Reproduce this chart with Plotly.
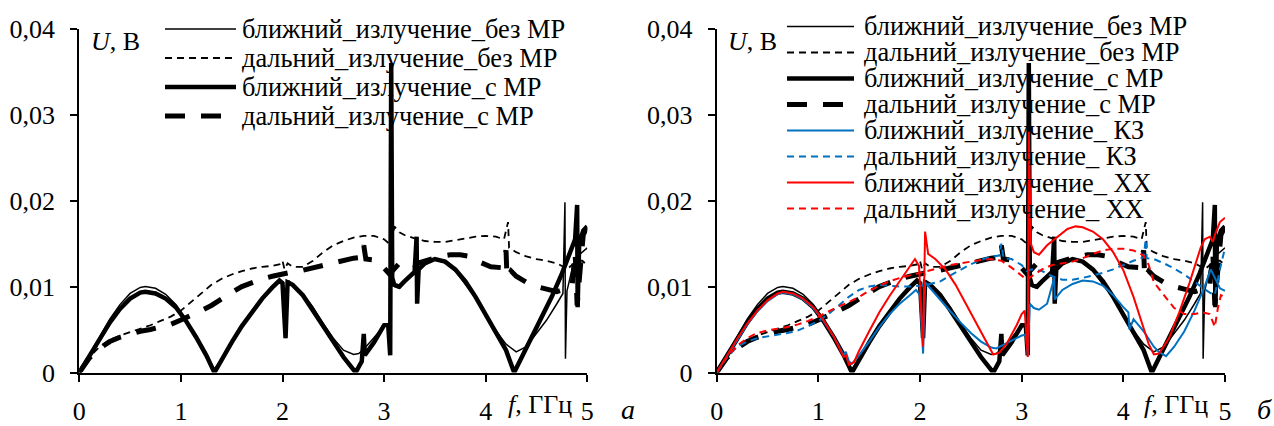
import plotly.graph_objects as go

# ---- measured spectra: frequency f (GHz) and voltage U (V) ----
# near end, radiation, without MR
f_near_noMR = [0, 0.1, 0.2, 0.3, 0.4, 0.5, 0.6, 0.65, 0.75, 0.85, 0.95, 1.05, 1.15, 1.25, 1.33, 1.4, 1.5,
               1.6, 1.7, 1.8, 1.9, 1.97, 2.0, 2.03, 2.04, 2.06, 2.1, 2.2, 2.3, 2.4, 2.5, 2.6, 2.7, 2.75,
               2.8, 2.9, 3.0, 3.04, 3.06, 3.065, 3.08, 3.1, 3.15, 3.2, 3.3, 3.4, 3.5, 3.6, 3.7, 3.8, 3.9,
               4.0, 4.1, 4.2, 4.3, 4.4, 4.5, 4.6, 4.7, 4.76, 4.78, 4.785, 4.8, 4.85, 4.9, 4.95, 5.0]
u_near_noMR = [0, 0.0021, 0.0042, 0.0062, 0.0079, 0.0092, 0.0099, 0.0100, 0.0098, 0.0091, 0.0079, 0.0062,
               0.0042, 0.0018, 0.0004, 0.0016, 0.0036, 0.0055, 0.0072, 0.0087, 0.0100, 0.0108, 0.0105,
               0.0040, 0.0060, 0.0107, 0.0103, 0.0092, 0.0076, 0.0057, 0.0040, 0.0026, 0.0021, 0.0022,
               0.0027, 0.0040, 0.0054, 0.0057, 0.0025, 0.0310, 0.0120, 0.0100, 0.0098, 0.0105, 0.0115,
               0.0126, 0.0131, 0.0128, 0.0118, 0.0103, 0.0087, 0.0068, 0.0049, 0.0033, 0.0024, 0.0030,
               0.0045, 0.0061, 0.0080, 0.0092, 0.0198, 0.0016, 0.0095, 0.0120, 0.0135, 0.0140, 0.0145]

# far end, radiation, without MR
f_far_noMR = [0, 0.1, 0.2, 0.3, 0.4, 0.5, 0.6, 0.7, 0.8, 0.9, 1.0, 1.1, 1.2, 1.3, 1.4, 1.5, 1.6, 1.7, 1.8,
              1.9, 1.98, 2.0, 2.02, 2.05, 2.1, 2.2, 2.3, 2.4, 2.5, 2.6, 2.7, 2.8, 2.9, 3.0, 3.05, 3.08, 3.1,
              3.15, 3.2, 3.3, 3.4, 3.5, 3.6, 3.7, 3.8, 3.9, 4.0, 4.1, 4.18, 4.22, 4.23, 4.3, 4.4, 4.5, 4.6,
              4.7, 4.75, 4.8, 4.85, 4.9, 4.95, 5.0]
u_far_noMR = [0, 0.0018, 0.0030, 0.0038, 0.0043, 0.0047, 0.0051, 0.0055, 0.0060, 0.0065, 0.0072, 0.0082,
              0.0093, 0.0102, 0.0109, 0.0114, 0.0118, 0.0121, 0.0123, 0.0124, 0.0126, 0.0130, 0.0120,
              0.0127, 0.0123, 0.0123, 0.0130, 0.0140, 0.0148, 0.0153, 0.0157, 0.0159, 0.0159, 0.0155,
              0.0150, 0.0150, 0.0170, 0.0163, 0.0160, 0.0156, 0.0153, 0.0152, 0.0152, 0.0154, 0.0156,
              0.0158, 0.0159, 0.0158, 0.0155, 0.0175, 0.0145, 0.0140, 0.0135, 0.0132, 0.0130, 0.0127,
              0.0124, 0.0120, 0.0125, 0.0130, 0.0130, 0.0125]

# near end, radiation, with MR
f_near_MR = [0, 0.1, 0.2, 0.3, 0.4, 0.5, 0.6, 0.65, 0.75, 0.85, 0.95, 1.05, 1.15, 1.25, 1.33, 1.4, 1.5, 1.6,
             1.7, 1.8, 1.9, 1.97, 2.0, 2.03, 2.05, 2.1, 2.2, 2.3, 2.4, 2.5, 2.6, 2.72, 2.78, 2.8, 2.81, 2.9,
             3.0, 3.04, 3.06, 3.07, 3.08, 3.1, 3.15, 3.2, 3.3, 3.32, 3.325, 3.34, 3.4, 3.5, 3.6, 3.7, 3.8,
             3.9, 4.0, 4.1, 4.2, 4.28, 4.35, 4.45, 4.55, 4.65, 4.75, 4.8, 4.88, 4.9, 4.905, 4.92, 4.96, 5.0]
u_near_MR = [0, 0.0020, 0.0040, 0.0058, 0.0074, 0.0086, 0.0093, 0.0094, 0.0092, 0.0086, 0.0076, 0.0060,
             0.0041, 0.0020, 0.0000, 0.0015, 0.0035, 0.0054, 0.0071, 0.0086, 0.0099, 0.0107, 0.0104,
             0.0040, 0.0105, 0.0102, 0.0090, 0.0073, 0.0054, 0.0036, 0.0018, 0.0000, 0.0013, 0.0045,
             0.0020, 0.0035, 0.0055, 0.0056, 0.0020, 0.0360, 0.0110, 0.0102, 0.0100, 0.0106, 0.0117,
             0.0158, 0.0080, 0.0120, 0.0127, 0.0132, 0.0129, 0.0120, 0.0106, 0.0088, 0.0068, 0.0047,
             0.0026, 0.0000, 0.0017, 0.0040, 0.0063, 0.0088, 0.0115, 0.0130, 0.0155, 0.0195, 0.0076,
             0.0150, 0.0165, 0.0170]

# far end, radiation, with MR
f_far_MR = [0, 0.1, 0.2, 0.3, 0.4, 0.5, 0.6, 0.7, 0.8, 0.9, 1.0, 1.1, 1.2, 1.3, 1.4, 1.5, 1.6, 1.7, 1.8, 1.9,
            2.0, 2.1, 2.2, 2.3, 2.4, 2.5, 2.6, 2.7, 2.78, 2.8, 2.82, 2.9, 2.95, 3.0, 3.05, 3.08, 3.15, 3.2,
            3.3, 3.35, 3.45, 3.55, 3.65, 3.75, 3.85, 3.95, 4.05, 4.15, 4.2, 4.21, 4.25, 4.3, 4.4, 4.5, 4.6,
            4.7, 4.78, 4.85, 4.88, 4.9, 4.93, 4.96, 5.0]
u_far_MR = [0, 0.0017, 0.0028, 0.0036, 0.0041, 0.0045, 0.0048, 0.0050, 0.0053, 0.0056, 0.0061, 0.0066,
            0.0072, 0.0078, 0.0086, 0.0093, 0.0100, 0.0105, 0.0109, 0.0112, 0.0115, 0.0117, 0.0119,
            0.0122, 0.0125, 0.0128, 0.0131, 0.0133, 0.0134, 0.0148, 0.0132, 0.0131, 0.0128, 0.0121,
            0.0115, 0.0118, 0.0127, 0.0129, 0.0125, 0.0128, 0.0132, 0.0135, 0.0137, 0.0137, 0.0135,
            0.0128, 0.0123, 0.0122, 0.0142, 0.0110, 0.0118, 0.0112, 0.0105, 0.0100, 0.0097, 0.0094,
            0.0097, 0.0100, 0.0140, 0.0078, 0.0120, 0.0160, 0.0170]

# near end, radiation, short circuit (КЗ)
f_near_sc = [0, 0.1, 0.2, 0.3, 0.4, 0.5, 0.6, 0.65, 0.75, 0.85, 0.95, 1.05, 1.15, 1.22, 1.25, 1.27, 1.3,
             1.33, 1.4, 1.5, 1.6, 1.7, 1.8, 1.9, 1.96, 2.0, 2.03, 2.05, 2.1, 2.2, 2.3, 2.4, 2.5, 2.6, 2.7,
             2.75, 2.8, 2.9, 3.0, 3.04, 3.06, 3.08, 3.12, 3.17, 3.25, 3.32, 3.325, 3.4, 3.5, 3.6, 3.7,
             3.8, 3.9, 4.0, 4.05, 4.06, 4.1, 4.2, 4.3, 4.35, 4.42, 4.5, 4.6, 4.7, 4.8, 4.86, 4.9, 4.95, 5.0]
u_near_sc = [0, 0.0019, 0.0038, 0.0056, 0.0071, 0.0083, 0.0091, 0.0093, 0.0091, 0.0085, 0.0075, 0.0060,
             0.0042, 0.0026, 0.0020, 0.0024, 0.0013, 0.0010, 0.0020, 0.0036, 0.0053, 0.0068, 0.0080,
             0.0090, 0.0096, 0.0090, 0.0022, 0.0105, 0.0098, 0.0085, 0.0071, 0.0058, 0.0046, 0.0036,
             0.0029, 0.0028, 0.0031, 0.0037, 0.0043, 0.0044, 0.0020, 0.0080, 0.0075, 0.0073, 0.0080,
             0.0110, 0.0085, 0.0096, 0.0103, 0.0107, 0.0106, 0.0101, 0.0090, 0.0076, 0.0070, 0.0050,
             0.0062, 0.0048, 0.0030, 0.0024, 0.0019, 0.0030, 0.0048, 0.0072, 0.0100, 0.0120, 0.0110,
             0.0098, 0.0095]

# far end, radiation, short circuit (КЗ)
f_far_sc = [0, 0.1, 0.2, 0.3, 0.4, 0.5, 0.6, 0.7, 0.8, 0.9, 1.0, 1.1, 1.2, 1.3, 1.4, 1.5, 1.6, 1.7, 1.8, 1.9,
            2.0, 2.1, 2.2, 2.3, 2.4, 2.5, 2.6, 2.7, 2.78, 2.8, 2.82, 2.9, 3.0, 3.05, 3.1, 3.2, 3.3, 3.4, 3.5,
            3.6, 3.7, 3.8, 3.9, 4.0, 4.1, 4.2, 4.22, 4.23, 4.3, 4.4, 4.5, 4.6, 4.7, 4.8, 4.85, 4.9, 4.95, 5.0]
u_far_sc = [0, 0.0017, 0.0030, 0.0036, 0.0040, 0.0042, 0.0044, 0.0046, 0.0049, 0.0054, 0.0060, 0.0068,
            0.0078, 0.0088, 0.0096, 0.0100, 0.0102, 0.0101, 0.0100, 0.0100, 0.0101, 0.0103, 0.0106,
            0.0113, 0.0120, 0.0126, 0.0131, 0.0135, 0.0136, 0.0150, 0.0133, 0.0132, 0.0125, 0.0118,
            0.0120, 0.0118, 0.0112, 0.0108, 0.0108, 0.0110, 0.0113, 0.0116, 0.0120, 0.0125, 0.0130,
            0.0134, 0.0155, 0.0133, 0.0132, 0.0127, 0.0121, 0.0114, 0.0105, 0.0097, 0.0093, 0.0090,
            0.0120, 0.0145]

# near end, radiation, open circuit (ХХ)
f_near_oc = [0, 0.1, 0.2, 0.3, 0.4, 0.5, 0.6, 0.65, 0.75, 0.85, 0.95, 1.05, 1.15, 1.22, 1.25, 1.27, 1.3,
             1.35, 1.4, 1.5, 1.6, 1.7, 1.8, 1.9, 1.95, 1.99, 2.03, 2.05, 2.08, 2.15, 2.25, 2.35, 2.45, 2.55,
             2.65, 2.72, 2.78, 2.85, 2.95, 3.0, 3.03, 3.06, 3.07, 3.09, 3.12, 3.17, 3.25, 3.35, 3.45, 3.53,
             3.6, 3.7, 3.8, 3.9, 4.0, 4.1, 4.2, 4.25, 4.3, 4.35, 4.45, 4.55, 4.65, 4.72, 4.76, 4.8, 4.85,
             4.88, 4.9, 4.95, 5.0]
u_near_oc = [0, 0.0020, 0.0039, 0.0057, 0.0072, 0.0084, 0.0092, 0.0094, 0.0092, 0.0086, 0.0076, 0.0061,
             0.0042, 0.0025, 0.0018, 0.0020, 0.0009, 0.0012, 0.0025, 0.0048, 0.0070, 0.0089, 0.0106,
             0.0122, 0.0132, 0.0124, 0.0030, 0.0164, 0.0138, 0.0132, 0.0120, 0.0102, 0.0080, 0.0057,
             0.0035, 0.0021, 0.0023, 0.0033, 0.0055, 0.0068, 0.0072, 0.0018, 0.0280, 0.0150, 0.0140,
             0.0137, 0.0148, 0.0158, 0.0167, 0.0170, 0.0169, 0.0164, 0.0155, 0.0140, 0.0119, 0.0088,
             0.0052, 0.0033, 0.0021, 0.0022, 0.0040, 0.0070, 0.0104, 0.0130, 0.0145, 0.0155, 0.0158,
             0.0152, 0.0160, 0.0175, 0.0180]

# far end, radiation, open circuit (ХХ)
f_far_oc = [0, 0.1, 0.2, 0.3, 0.4, 0.5, 0.6, 0.7, 0.8, 0.9, 1.0, 1.1, 1.2, 1.3, 1.4, 1.5, 1.6, 1.7, 1.8, 1.9,
            2.0, 2.1, 2.2, 2.3, 2.4, 2.5, 2.6, 2.7, 2.8, 2.9, 2.98, 3.05, 3.1, 3.2, 3.3, 3.4, 3.5, 3.6, 3.7,
            3.8, 3.9, 4.0, 4.1, 4.2, 4.25, 4.3, 4.4, 4.5, 4.6, 4.7, 4.78, 4.85, 4.9, 4.93, 4.96, 5.0]
u_far_oc = [0, 0.0018, 0.0031, 0.0040, 0.0046, 0.0049, 0.0051, 0.0053, 0.0056, 0.0060, 0.0065, 0.0071,
            0.0077, 0.0082, 0.0088, 0.0095, 0.0101, 0.0106, 0.0110, 0.0113, 0.0116, 0.0119, 0.0122,
            0.0125, 0.0127, 0.0129, 0.0131, 0.0132, 0.0130, 0.0122, 0.0115, 0.0108, 0.0112, 0.0120,
            0.0125, 0.0127, 0.0129, 0.0133, 0.0138, 0.0142, 0.0144, 0.0144, 0.0142, 0.0136, 0.0125,
            0.0105, 0.0090, 0.0075, 0.0068, 0.0068, 0.0070, 0.0068, 0.0053, 0.0075, 0.0090, 0.0088]

# axis ticks
x_ticks = [0, 1, 2, 3, 4, 5]
x_tick_text = ["0", "1", "2", "3", "4", "5"]
y_ticks = [0, 0.01, 0.02, 0.03, 0.04]
y_tick_text = ["0", "0,01", "0,02", "0,03", "0,04"]

# series names as they appear in the legends
names = [
    "ближний_излучение_без МР",
    "дальний_излучение_без МР",
    "ближний_излучение_с МР",
    "дальний_излучение_с МР",
    "ближний_излучение_ КЗ",
    "дальний_излучение_ КЗ",
    "ближний_излучение_ ХХ",
    "дальний_излучение_ ХХ",
]

BLUE = "#0070C0"
RED = "#FF0000"
BLACK = "#000000"
FONT = "Liberation Serif"
W, H = 1274, 426

styles = [
    dict(color=BLACK, width=1.5, dash="solid"),
    dict(color=BLACK, width=1.8, dash="7px,5px"),
    dict(color=BLACK, width=4.5, dash="solid"),
    dict(color=BLACK, width=5, dash="20px,16px"),
    dict(color=BLUE, width=2, dash="solid"),
    dict(color=BLUE, width=2, dash="7px,5px"),
    dict(color=RED, width=2, dash="solid"),
    dict(color=RED, width=2, dash="7px,5px"),
]

series = [
    (f_near_noMR, u_near_noMR),
    (f_far_noMR, u_far_noMR),
    (f_near_MR, u_near_MR),
    (f_far_MR, u_far_MR),
    (f_near_sc, u_near_sc),
    (f_far_sc, u_far_sc),
    (f_near_oc, u_near_oc),
    (f_far_oc, u_far_oc),
]

fig = go.Figure()

# panel а: four black curves; panel б: all eight
for i in range(4):
    f, u = series[i]
    fig.add_trace(go.Scatter(x=f, y=u, mode="lines", line=styles[i], name=names[i],
                             xaxis="x", yaxis="y", showlegend=False))
for i in range(8):
    f, u = series[i]
    fig.add_trace(go.Scatter(x=f, y=u, mode="lines", line=styles[i], name=names[i],
                             xaxis="x2", yaxis="y2", showlegend=False))


def px(x):
    return x / W


def py(y):
    return 1 - y / H


y_dom = [py(372.5), py(28.7)]
axis_common = dict(
    showline=True, linecolor=BLACK, linewidth=2, mirror=False,
    ticks="outside", ticklen=7, tickwidth=2, tickcolor=BLACK,
    showgrid=False, zeroline=False, automargin=False,
    tickfont=dict(family=FONT, size=26, color=BLACK),
)
x_axis_common = dict(range=[0, 5], tickvals=x_ticks, ticktext=x_tick_text,
                     ticklabelstandoff=7, **axis_common)
y_axis_common = dict(domain=y_dom, range=[0, 0.04], tickvals=y_ticks, ticktext=y_tick_text,
                     ticklabelstandoff=10, **axis_common)

fig.update_layout(
    width=W, height=H,
    margin=dict(l=0, r=0, t=0, b=0, autoexpand=False),
    paper_bgcolor="white", plot_bgcolor="white",
    showlegend=False,
    xaxis=dict(domain=[px(79.3), px(587.3)], anchor="y", **x_axis_common),
    yaxis=dict(anchor="x", **y_axis_common),
    xaxis2=dict(domain=[px(716.7), px(1225)], anchor="y2", **x_axis_common),
    yaxis2=dict(anchor="x2", **y_axis_common),
)

annotations = []
shapes = []


def text_at(x, y, txt, size=26, anchor="left", italic=False):
    annotations.append(dict(
        x=px(x), y=py(y), xref="paper", yref="paper", text=txt, showarrow=False,
        xanchor=anchor, yanchor="middle",
        font=dict(family=FONT, size=size, color=BLACK, style="italic" if italic else "normal"),
    ))


# legend blocks drawn as line samples with labels
def legend_block(x0, x1, xt, rows, idxs):
    for yrow, i in zip(rows, idxs):
        st = styles[i]
        shapes.append(dict(type="line", xref="paper", yref="paper",
                           x0=px(x0), x1=px(x1), y0=py(yrow), y1=py(yrow),
                           line=dict(color=st["color"], width=st["width"], dash=st["dash"])))
        text_at(xt, yrow, names[i], size=26.4)


legend_block(165, 236, 240, [29, 58, 87, 116], range(4))
legend_block(787, 854, 862, [26.5, 52.5, 78.5, 104.5, 130.5, 156.5, 182.5, 208.5], range(8))

# axis titles
text_at(89, 42, "<i>U</i>, В")
text_at(726, 42, "<i>U</i>, В")
text_at(539.5, 404, "<i>f</i>, ГГц", anchor="center")
text_at(1175.5, 404, "<i>f</i>, ГГц", anchor="center")

# panel letters
text_at(628, 409, "а", size=28, anchor="center", italic=True)
text_at(1264, 409, "б", size=28, anchor="center", italic=True)

fig.update_layout(annotations=annotations, shapes=shapes)

fig.write_html("out.html")
